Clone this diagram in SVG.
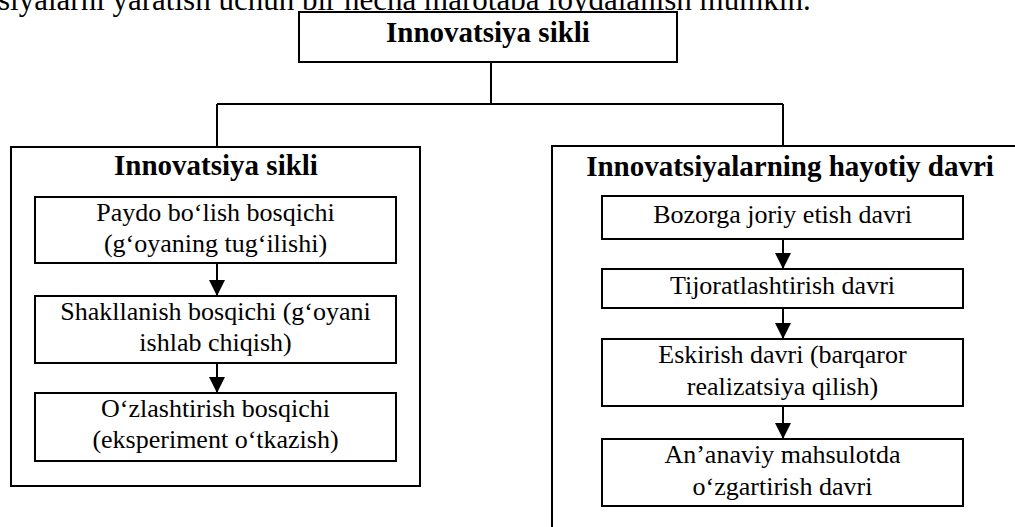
<svg xmlns="http://www.w3.org/2000/svg" width="1015" height="527" viewBox="0 0 1015 527">
<style>
.box{fill:#fff;stroke:#000;stroke-width:2}
.ln{fill:none;stroke:#000;stroke-width:2}
.t{font-family:"Liberation Serif","Times New Roman",serif;font-size:26px;fill:#000;text-anchor:middle}
.h{font-family:"Liberation Serif","Times New Roman",serif;font-size:29px;font-weight:bold;fill:#000;text-anchor:middle}
.p{font-family:"Liberation Serif","Times New Roman",serif;font-size:31px;fill:#000}
</style>
<defs>
<marker id="arr" markerUnits="userSpaceOnUse" markerWidth="16" markerHeight="16" viewBox="0 0 16 16" refX="16" refY="8" orient="auto">
<path d="M0,0 L16,8 L0,16 Z" fill="#000"/>
</marker>
</defs>
<rect width="1015" height="527" fill="#fff"/>
<text class="p" x="-2" y="10">siyalarni yaratish uchun bir necha marotaba foydalanish mumkin.</text>
<g id="root">
<rect class="box" x="299" y="12" width="378" height="50"/>
<text class="h" x="488" y="42">Innovatsiya sikli</text>
</g>
<g id="left-group">
<rect class="box" x="11" y="147" width="409" height="339"/>
<text class="h" x="216" y="175">Innovatsiya sikli</text>
</g>
<g id="right-group">
<rect class="box" x="552" y="146" width="480" height="400"/>
<text class="h" x="790" y="176">Innovatsiyalarning hayotiy davri</text>
</g>
<g id="l1">
<rect class="box" x="35" y="197" width="361" height="66"/>
<text class="t" x="215.5" y="221">Paydo bo‘lish bosqichi</text>
<text class="t" x="215.5" y="252">(g‘oyaning tug‘ilishi)</text>
</g>
<g id="l2">
<rect class="box" x="35" y="296" width="361" height="67"/>
<text class="t" x="215.5" y="320">Shakllanish bosqichi (g‘oyani</text>
<text class="t" x="215.5" y="351">ishlab chiqish)</text>
</g>
<g id="l3">
<rect class="box" x="35" y="393" width="361" height="68"/>
<text class="t" x="215.5" y="417">O‘zlashtirish bosqichi</text>
<text class="t" x="215.5" y="448">(eksperiment o‘tkazish)</text>
</g>
<g id="r1">
<rect class="box" x="602" y="196" width="361" height="43"/>
<text class="t" x="782.5" y="223">Bozorga joriy etish davri</text>
</g>
<g id="r2">
<rect class="box" x="602" y="269" width="361" height="39"/>
<text class="t" x="782.5" y="294">Tijoratlashtirish davri</text>
</g>
<g id="r3">
<rect class="box" x="602" y="339" width="361" height="67"/>
<text class="t" x="782.5" y="363">Eskirish davri (barqaror</text>
<text class="t" x="782.5" y="395">realizatsiya qilish)</text>
</g>
<g id="r4">
<rect class="box" x="602" y="439" width="361" height="67"/>
<text class="t" x="782.5" y="463">An’anaviy mahsulotda</text>
<text class="t" x="782.5" y="495">o‘zgartirish davri</text>
</g>
<g id="connectors">
<path class="ln" d="M491,62 V104 M217,104 H783 M217,104 V147 M783,104 V146"/>
<line class="ln" x1="217" y1="263" x2="217" y2="296" marker-end="url(#arr)"/>
<line class="ln" x1="217" y1="363" x2="217" y2="393" marker-end="url(#arr)"/>
<line class="ln" x1="783" y1="239" x2="783" y2="269" marker-end="url(#arr)"/>
<line class="ln" x1="783" y1="308" x2="783" y2="339" marker-end="url(#arr)"/>
<line class="ln" x1="783" y1="406" x2="783" y2="439" marker-end="url(#arr)"/>
</g>
</svg>
